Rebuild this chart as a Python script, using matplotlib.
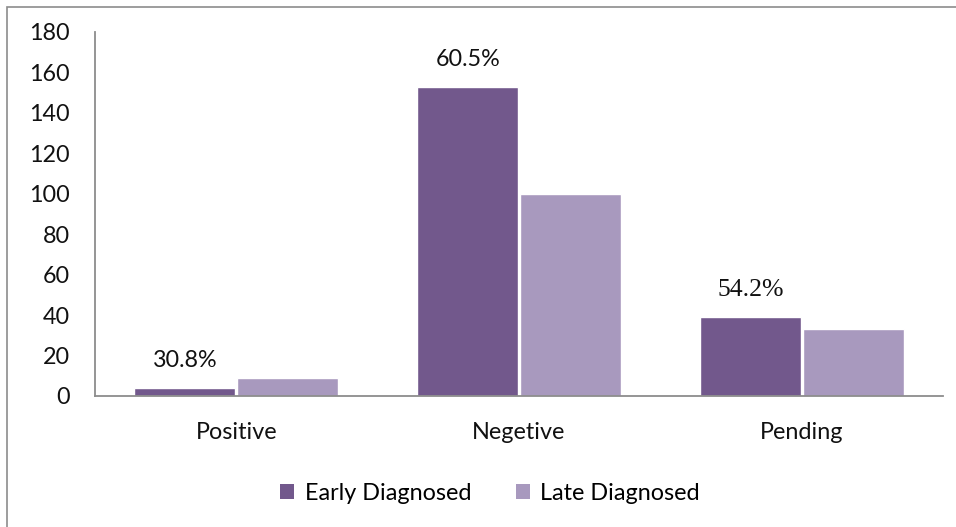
import matplotlib
matplotlib.use("Agg")
import matplotlib.pyplot as plt
from matplotlib.patches import Rectangle
from matplotlib import font_manager as fm
import numpy as np

categories = ["Positive", "Negetive", "Pending"]
early = [4, 153, 39]
late = [9, 100, 33]
early_pct = ["30.8%", "60.5%", "54.2%"]
pct_fonts = ["Lato", "Lato", "Liberation Serif"]
pct_sizes = [16.8, 16.8, 18.5]
yticks = [0, 20, 40, 60, 80, 100, 120, 140, 160, 180]

c_early = "#72588C"
c_late = "#A899BE"
axis_grey = "#8C8C8C"
fs = 16.8

W, H = 956, 527
fig = plt.figure(figsize=(W / 100, H / 100), dpi=100)
plt.rcParams["font.family"] = ["Lato", "DejaVu Sans"]

# outer chart frame
fig.patches.append(Rectangle((7 / W, -0.05), 1.1, 1 - 7 / H + 0.05, transform=fig.transFigure,
                             fill=False, edgecolor=axis_grey, linewidth=1.2))

ax = fig.add_axes([95 / W, 1 - 396 / H, (943 - 95) / W, (396 - 32) / H])
x = np.arange(len(categories))
bw = 0.358
ax.bar(x - bw / 2 - 0.003, early, bw, color=c_early, edgecolor="white", linewidth=1.0,
       label="Early Diagnosed")
ax.bar(x + bw / 2 + 0.003, late, bw, color=c_late, edgecolor="white", linewidth=1.0,
       label="Late Diagnosed")

for xi, v, t, f, s in zip(x, early, early_pct, pct_fonts, pct_sizes):
    fp = fm.FontProperties(fname=fm.findfont(fm.FontProperties(family=f)), size=s)
    ax.annotate(t, (xi - bw / 2, v), xytext=(0, 27), textcoords="offset pixels",
                ha="center", va="center", fontproperties=fp, color="#111111")

ax.set_xlim(-0.5, 2.5)
ax.set_ylim(0, 180)
ax.set_yticks(yticks)
ax.set_xticks(x)
ax.set_xticklabels(categories)
ax.tick_params(axis="y", length=0, pad=18, labelsize=fs, labelcolor="#111111")
ax.tick_params(axis="x", length=0, pad=19, labelsize=fs, labelcolor="#111111")
for s in ["top", "right"]:
    ax.spines[s].set_visible(False)
for s in ["left", "bottom"]:
    ax.spines[s].set_color(axis_grey)
    ax.spines[s].set_linewidth(1.3)

leg = fig.legend(loc="center", bbox_to_anchor=(490 / W, 1 - 493 / H), ncol=2, frameon=False,
                 fontsize=fs, handlelength=0.6, handleheight=0.6, handletextpad=0.45,
                 columnspacing=1.9)
for h in leg.legend_handles:
    h.set_edgecolor("none")

fig.savefig("out.png", dpi=100)
